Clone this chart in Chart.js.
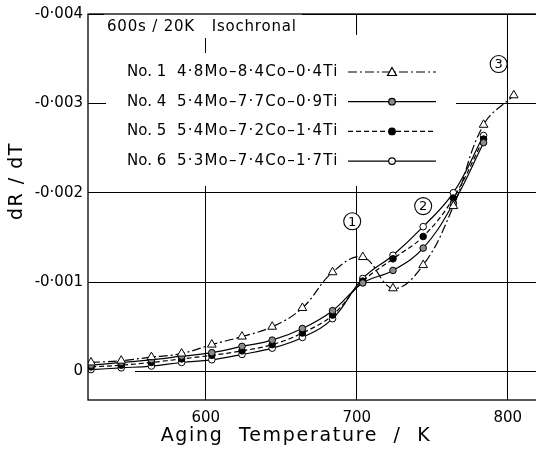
<!DOCTYPE html>
<html>
<head>
<meta charset="utf-8">
<script src="https://cdn.jsdelivr.net/npm/chart.js@4/dist/chart.umd.min.js"></script>
<style>
  html, body { margin: 0; padding: 0; background: #fff; overflow: hidden; }
  #wrap { width: 560px; height: 458px; }
</style>
</head>
<body>
<div id="wrap"><canvas id="graficoIsocrono" width="560" height="458"></canvas></div>
<script>
// aging temperatures (K), 600 s per 20 K step
const temperature = [524, 544, 564, 584, 604, 624, 644, 664, 684, 704, 724, 744, 764, 784, 804];

// dR/dT for each alloy
const no1 = [-0.0001, -0.00012, -0.00016, -0.0002, -0.0003, -0.00039, -0.0005, -0.00071, -0.00111, -0.00128, -0.00093, -0.00119, -0.00185, -0.00276, -0.00309];
const no4 = [-0.00007, -0.0001, -0.00013, -0.00017, -0.00021, -0.00028, -0.00035, -0.00048, -0.00068, -0.00099, -0.00113, -0.00138, -0.00188, -0.00256];
const no5 = [-0.00005, -0.00007, -0.0001, -0.00014, -0.00018, -0.00023, -0.0003, -0.00043, -0.00063, -0.00101, -0.00126, -0.00151, -0.00194, -0.0026];
const no6 = [-0.00002, -0.00004, -0.00006, -0.0001, -0.00013, -0.00019, -0.00026, -0.00038, -0.00059, -0.00104, -0.0013, -0.00162, -0.002, -0.00264];

const campioni = ['No. 1', 'No. 4', 'No. 5', 'No. 6'];
const leghe = ['4·8Mo–8·4Co–0·4Ti', '5·4Mo–7·7Co–0·9Ti', '5·4Mo–7·2Co–1·4Ti', '5·3Mo–7·4Co–1·7Ti'];

const xTicks = [600, 700, 800];
const yTicks = [-0.004, -0.003, -0.002, -0.001, 0];
const yTickLabels = ['-0·004', '-0·003', '-0·002', '-0·001', '0'];

// circled stage numbers: [temperature, dR/dT, text]
const stadi = [[697, -0.00168, '1'], [744, -0.00185, '2'], [794, -0.00344, '3']];

const FONT = '"DejaVu Sans", sans-serif';

function punti(serie) {
    return serie.map((v, i) => ({ x: temperature[i], y: v }));
}

const stili = [
    { data: no1, dash: [9, 3, 2, 3], point: 'triangle', r: 5, fill: '#fff' },
    { data: no4, dash: [], point: 'circle', r: 3.3, fill: '#8a8a8a' },
    { data: no5, dash: [5, 3], point: 'circle', r: 3.3, fill: '#000' },
    { data: no6, dash: [], point: 'circle', r: 3.3, fill: '#fff' }
];

const decorazioni = {
    id: 'decorazioni',
    beforeDatasetsDraw(chart) {
        const ctx = chart.ctx;
        ctx.save();
        ctx.fillStyle = '#fff';
        // blank areas behind title and key
        ctx.fillRect(104, 14, 198, 24);
        ctx.fillRect(106, 53, 350, 133);
        ctx.fillRect(340, 35, 40, 20);
        ctx.fillRect(89, 364, 46, 14);
        ctx.restore();
    },
    afterDraw(chart) {
        const ctx = chart.ctx;
        const xs = chart.scales.x, ys = chart.scales.y;
        const a = chart.chartArea;
        ctx.save();
        ctx.strokeStyle = '#000';
        ctx.lineWidth = 1.3;
        ctx.strokeRect(a.left, a.top, a.right - a.left, a.bottom - a.top);

        ctx.fillStyle = '#000';
        ctx.textBaseline = 'middle';
        ctx.textAlign = 'left';
        ctx.font = '15px ' + FONT;
        ctx.letterSpacing = '0.8px';
        ctx.fillText('600s / 20K   Isochronal', 107, 27);

        // key
        for (let i = 0; i < campioni.length; i++) {
            const y = 72 + i * 29.7;
            ctx.letterSpacing = '0px';
            ctx.fillText(campioni[i], 127, y);
            ctx.letterSpacing = '1.2px';
            ctx.fillText(leghe[i], 177, y);
            const s = stili[i];
            ctx.beginPath();
            ctx.setLineDash(s.dash);
            ctx.lineWidth = 1.2;
            ctx.moveTo(348, y);
            ctx.lineTo(436, y);
            ctx.stroke();
            ctx.setLineDash([]);
            ctx.fillStyle = s.fill;
            ctx.beginPath();
            if (s.point === 'triangle') {
                ctx.moveTo(392, y - 4.5);
                ctx.lineTo(396.5, y + 3.5);
                ctx.lineTo(387.5, y + 3.5);
                ctx.closePath();
            } else {
                ctx.arc(392, y, s.r, 0, Math.PI * 2);
            }
            ctx.fill();
            ctx.stroke();
            ctx.fillStyle = '#000';
        }

        // stage markers
        ctx.letterSpacing = '0px';
        ctx.font = '13px ' + FONT;
        ctx.textAlign = 'center';
        stadi.forEach(function (st) {
            const cx = xs.getPixelForValue(st[0]);
            const cy = ys.getPixelForValue(st[1]);
            ctx.beginPath();
            ctx.lineWidth = 1.1;
            ctx.fillStyle = '#fff';
            ctx.arc(cx, cy, 8.5, 0, Math.PI * 2);
            ctx.fill();
            ctx.stroke();
            ctx.fillStyle = '#000';
            ctx.fillText(st[2], cx, cy + 1);
        });

        // axis titles
        ctx.font = '19px ' + FONT;
        ctx.letterSpacing = '1.7px';
        ctx.fillText('Aging  Temperature  /  K', 296, 436);
        ctx.translate(17, 181);
        ctx.rotate(-Math.PI / 2);
        ctx.letterSpacing = '1.5px';
        ctx.fillText('dR / dT', 0, 0);
        ctx.restore();
    }
};

const ctx = document.getElementById('graficoIsocrono');
const grafico = new Chart(ctx, {
    type: 'line',
    data: {
        datasets: stili.map((s, i) => ({
            label: campioni[i],
            data: punti(s.data),
            borderColor: '#000',
            borderWidth: 1.2,
            borderDash: s.dash,
            tension: 0.4,
            pointStyle: s.point,
            pointRadius: s.r,
            pointBackgroundColor: s.fill,
            pointBorderColor: '#000',
            pointBorderWidth: 1
        }))
    },
    options: {
        responsive: false,
        animation: false,
        layout: { padding: { top: 13, right: 10, left: 0, bottom: 0 } },
        plugins: {
            legend: { display: false },
            tooltip: { enabled: false }
        },
        scales: {
            x: {
                type: 'linear',
                min: 522,
                max: 828,
                afterFit: function (scale) { scale.height = 58; },
                afterBuildTicks: function (scale) { scale.ticks = xTicks.map(v => ({ value: v })); },
                grid: { color: '#000', lineWidth: 1, drawTicks: false },
                border: { display: false },
                ticks: {
                    color: '#000',
                    padding: 9,
                    maxRotation: 0,
                    font: { family: FONT, size: 15 }
                }
            },
            y: {
                type: 'linear',
                reverse: true,
                min: -0.004,
                max: 0.00032,
                afterFit: function (scale) { scale.width = 88; },
                afterBuildTicks: function (scale) { scale.ticks = yTicks.map(v => ({ value: v })); },
                grid: { color: '#000', lineWidth: 1, drawTicks: false },
                border: { display: false },
                ticks: {
                    color: '#000',
                    padding: 5,
                    font: { family: FONT, size: 15 },
                    callback: function (value) {
                        const i = yTicks.findIndex(t => Math.abs(t - value) < 1e-9);
                        return i >= 0 ? yTickLabels[i] : '';
                    }
                }
            }
        }
    },
    plugins: [decorazioni]
});
</script>
</body>
</html>
